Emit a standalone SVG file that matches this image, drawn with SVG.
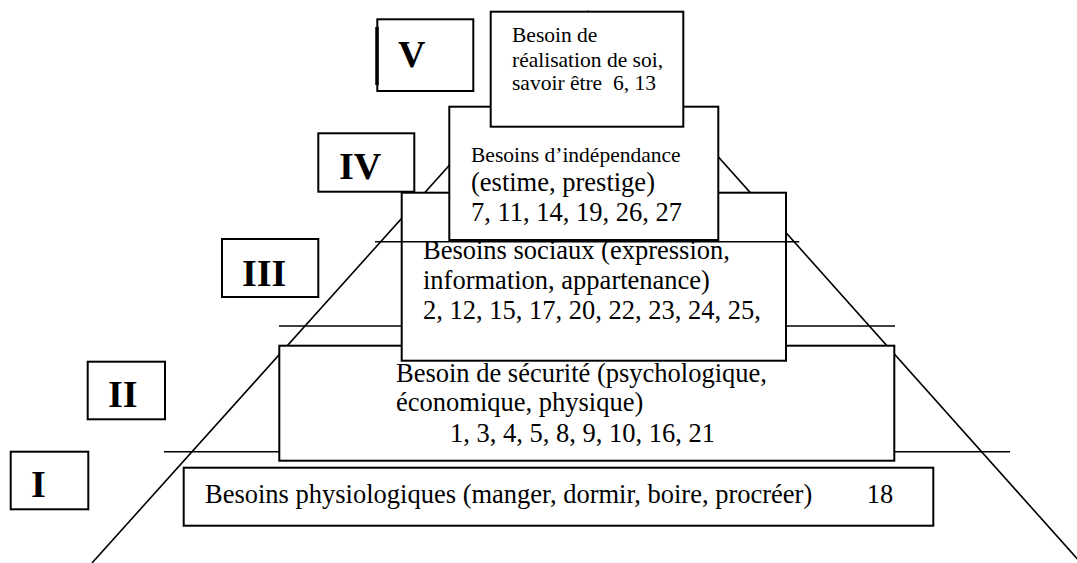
<svg xmlns="http://www.w3.org/2000/svg" width="1077" height="563" viewBox="0 0 1077 563">
<style>
.box{fill:#fff;stroke:#000;stroke-width:2}
.ln{stroke:#000;stroke-width:1.6;fill:none}
.num{font-family:"Liberation Serif","Times New Roman",serif;font-weight:bold;font-size:38px;fill:#000}
.t{font-family:"Liberation Serif","Times New Roman",serif;font-size:26.5px;fill:#000}
.s{font-family:"Liberation Serif","Times New Roman",serif;font-size:21.5px;fill:#000}
</style>
<rect width="1077" height="563" fill="#fff"/>
<g id="connectors">
<line class="ln" x1="92" y1="563" x2="588" y2="11"/>
<line class="ln" x1="588" y1="11" x2="1081" y2="563"/>
<line class="ln" x1="279" y1="326" x2="895" y2="326"/>
<line class="ln" x1="164" y1="451.7" x2="1010" y2="451.7"/>
</g>
<g id="level-I">
<rect class="box" x="10.7" y="451.7" width="77.6" height="57.6"/>
<text class="num" x="31" y="497.3">I</text>
</g>
<g id="level-II">
<rect class="box" x="87.7" y="361.7" width="77.3" height="57.6"/>
<text class="num" x="108" y="406.7">II</text>
</g>
<g id="level-III">
<rect class="box" x="222" y="239" width="96.3" height="58"/>
<text class="num" x="242" y="285.7">III</text>
</g>
<g id="level-IV">
<rect class="box" x="318.3" y="133.3" width="96" height="58.4"/>
<text class="num" x="339" y="179">IV</text>
</g>
<g id="level-V">
<rect class="box" x="377.3" y="19.3" width="96" height="71.7"/>
<line x1="377" y1="27" x2="377" y2="85" stroke="#000" stroke-width="3.5"/>
<text class="num" x="398" y="66.7">V</text>
</g>
<g id="physiologiques">
<rect class="box" x="183.7" y="467.7" width="749.6" height="58"/>
<text class="t" x="205" y="503.3">Besoins physiologiques (manger, dormir, boire, procréer)</text>
<text class="t" x="866.7" y="503.3">18</text>
</g>
<g id="securite">
<rect class="box" x="279.3" y="345.7" width="615" height="115"/>
<text class="t" x="396" y="381.5">Besoin de sécurité (psychologique,</text>
<text class="t" x="396" y="410.7">économique, physique)</text>
<text class="t" x="450" y="442.3">1, 3, 4, 5, 8, 9, 10, 16, 21</text>
</g>
<g id="sociaux">
<rect class="box" x="401.7" y="192.7" width="384.3" height="168"/>
<text class="t" x="423" y="258.5">Besoins sociaux (expression,</text>
<text class="t" x="423" y="289">information, appartenance)</text>
<text class="t" x="423" y="318.5">2, 12, 15, 17, 20, 22, 23, 24, 25,</text>
</g>
<g id="independance">
<rect class="box" x="449.3" y="106.7" width="269" height="133.3"/>
<text class="s" x="471" y="161.7">Besoins d’indépendance</text>
<text class="t" x="471" y="190.5">(estime, prestige)</text>
<text class="t" x="471" y="220.5">7, 11, 14, 19, 26, 27</text>
</g>
<g id="realisation">
<rect class="box" x="490.7" y="11.7" width="192.6" height="115"/>
<text class="s" x="512" y="41.7">Besoin de</text>
<text class="s" x="512" y="66.7">réalisation de soi,</text>
<text class="s" x="512" y="90" xml:space="preserve">savoir être  6, 13</text>
</g>
<g id="connectors-top">
<line class="ln" x1="375" y1="241.7" x2="799.3" y2="241.7" stroke-width="2"/>
</g>
</svg>
